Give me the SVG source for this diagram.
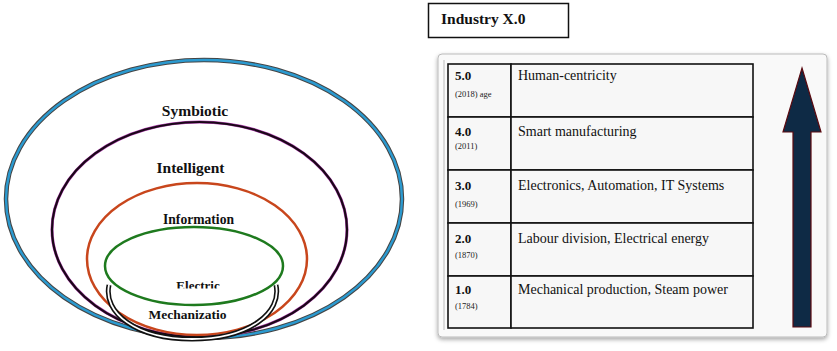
<svg xmlns="http://www.w3.org/2000/svg" width="837" height="351" viewBox="0 0 837 351">
<defs>
<style>
text{font-family:'Liberation Serif','Times New Roman','DejaVu Serif',serif}
.lbl{font-weight:bold;fill:#111}
.ver{font-weight:bold;font-size:13px;fill:#111}
.yr{font-size:8.5px;fill:#222}
.desc{font-size:14px;fill:#111}
.cell{fill:#f7f7f7;stroke:#111;stroke-width:1.6}
</style>
<filter id="sh" x="-5%" y="-5%" width="110%" height="115%">
<feDropShadow dx="0" dy="2" stdDeviation="2" flood-color="#000" flood-opacity="0.35"/>
</filter>
<clipPath id="elc"><rect x="150" y="270" width="100" height="18.5"/></clipPath>
</defs>
<rect width="837" height="351" fill="#fff"/>

<g id="symbiotic">
<ellipse cx="204" cy="199" rx="198" ry="139" fill="none" stroke="#444" stroke-width="4.5"/>
<ellipse cx="204" cy="199" rx="198" ry="139" fill="none" stroke="#2b9ad0" stroke-width="2.4"/>
<text class="lbl" x="195" y="116" font-size="15.5" text-anchor="middle">Symbiotic</text>
</g>
<g id="intelligent">
<ellipse cx="199.5" cy="229.5" rx="147.5" ry="107.5" fill="none" stroke="#b040b0" stroke-width="3"/>
<ellipse cx="199.5" cy="229.5" rx="147.5" ry="107.5" fill="none" stroke="#1a0818" stroke-width="2.2"/>
<text class="lbl" x="190.5" y="173" font-size="15.5" text-anchor="middle">Intelligent</text>
</g>
<g id="information">
<ellipse cx="197" cy="259" rx="110" ry="76" fill="none" stroke="#c8461c" stroke-width="2.5"/>
<text class="lbl" x="198.5" y="224" font-size="13.6" text-anchor="middle">Information</text>
</g>
<g id="mechanization">
<path d="M109 285 C103 312 135 339 192 339 C250 339 282 312 276 285" fill="none" stroke="#111" stroke-width="5"/>
<path d="M109 285 C103 312 135 339 192 339 C250 339 282 312 276 285" fill="none" stroke="#fff" stroke-width="1.8"/>
<text class="lbl" x="187.5" y="319" font-size="13.5" text-anchor="middle">Mechanizatio</text>
</g>
<g id="electric">
<ellipse cx="194" cy="266" rx="89" ry="39" fill="none" stroke="#1e7a1e" stroke-width="2.5"/>
<text class="lbl" x="198" y="290" font-size="13" text-anchor="middle" clip-path="url(#elc)">Electric</text>
</g>

<g id="title">
<rect x="428.5" y="3.5" width="140" height="34" fill="#fff" stroke="#111" stroke-width="1.5"/>
<text class="lbl" x="441" y="24" font-size="15.5">Industry X.0</text>
</g>

<g id="panel">
<rect x="438" y="54" width="389" height="283" rx="4" fill="#f9f9f9" stroke="#bbb" stroke-width="1" filter="url(#sh)"/>
<line x1="444" y1="60" x2="444" y2="330" stroke="#bbb" stroke-width="1"/>
</g>

<g id="row5">
<rect class="cell" x="448" y="64" width="63" height="53"/>
<rect class="cell" x="511" y="64" width="242" height="53"/>
<text class="ver" x="455" y="80">5.0</text>
<text class="yr" x="455" y="97">(2018) age</text>
<text class="desc" x="518" y="80">Human-centricity</text>
</g>
<g id="row4">
<rect class="cell" x="448" y="117" width="63" height="53"/>
<rect class="cell" x="511" y="117" width="242" height="53"/>
<text class="ver" x="455" y="136">4.0</text>
<text class="yr" x="455" y="149">(2011)</text>
<text class="desc" x="518" y="136">Smart manufacturing</text>
</g>
<g id="row3">
<rect class="cell" x="448" y="170" width="63" height="53"/>
<rect class="cell" x="511" y="170" width="242" height="53"/>
<text class="ver" x="455" y="190">3.0</text>
<text class="yr" x="455" y="207">(1969)</text>
<text class="desc" x="518" y="190">Electronics, Automation, IT Systems</text>
</g>
<g id="row2">
<rect class="cell" x="448" y="223" width="63" height="53"/>
<rect class="cell" x="511" y="223" width="242" height="53"/>
<text class="ver" x="455" y="243">2.0</text>
<text class="yr" x="455" y="258">(1870)</text>
<text class="desc" x="518" y="243">Labour division, Electrical energy</text>
</g>
<g id="row1">
<rect class="cell" x="448" y="276" width="63" height="52"/>
<rect class="cell" x="511" y="276" width="242" height="52"/>
<text class="ver" x="455" y="294">1.0</text>
<text class="yr" x="455" y="309">(1784)</text>
<text class="desc" x="518" y="294">Mechanical production, Steam power</text>
</g>

<g id="connectors">
<path d="M802 68 L821 132 L811 132 L811 327 L793 327 L793 132 L783 132 Z" fill="#0e2a45" stroke="#5a0a10" stroke-width="1.2" stroke-linejoin="miter"/>
</g>
</svg>
